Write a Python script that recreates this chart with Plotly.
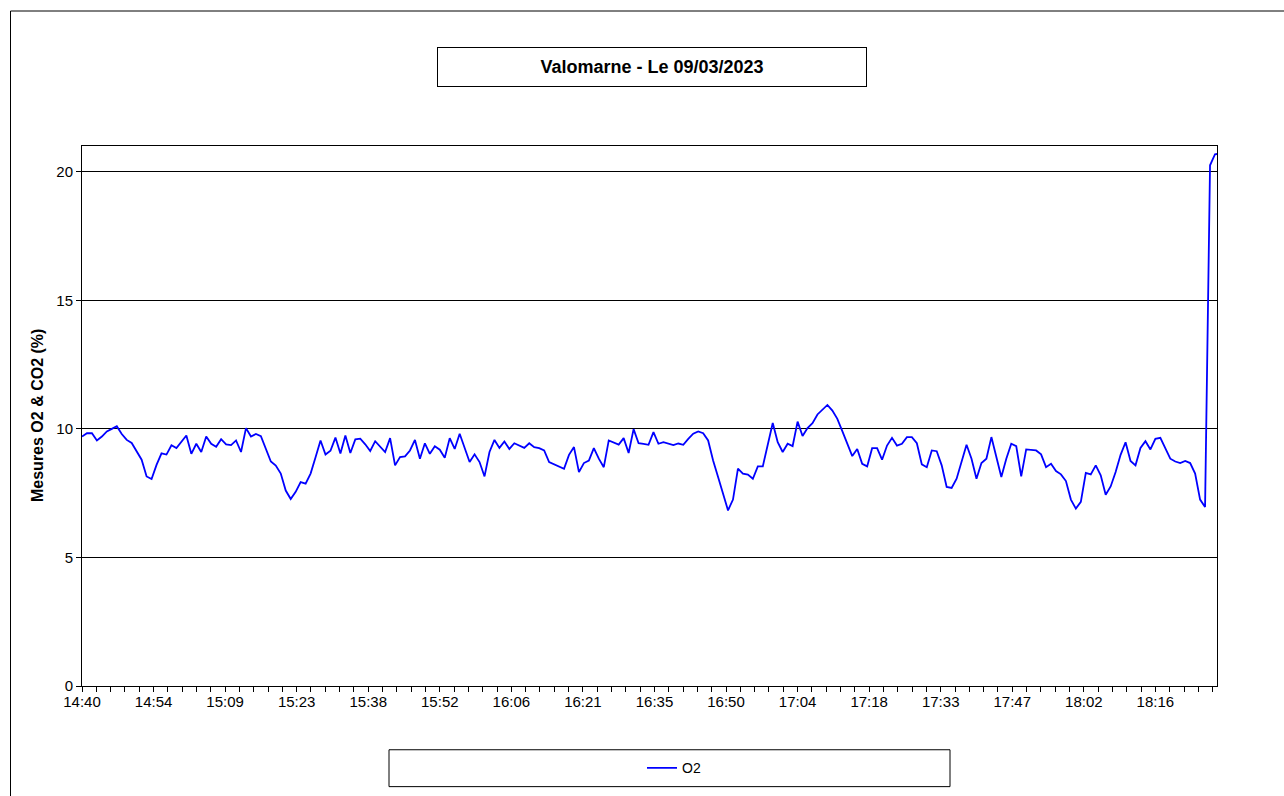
import plotly.graph_objects as go

# O2 readings (%), one per minute starting at 14:40
o2 = [
    9.70, 9.83, 9.83, 9.55, 9.70, 9.90, 10.00, 10.10, 9.80, 9.57,
    9.45, 9.15, 8.80, 8.15, 8.05, 8.60, 9.05, 9.00, 9.36, 9.25,
    9.50, 9.74, 9.03, 9.42, 9.10, 9.70, 9.42, 9.30, 9.60, 9.40,
    9.37, 9.55, 9.10, 10.03, 9.70, 9.80, 9.72, 9.22, 8.73, 8.57,
    8.26, 7.60, 7.27, 7.55, 7.93, 7.87, 8.26, 8.90, 9.55, 9.00,
    9.15, 9.66, 9.04, 9.74, 9.06, 9.59, 9.62, 9.40, 9.14, 9.52,
    9.29, 9.10, 9.64, 8.58, 8.90, 8.93, 9.16, 9.57, 8.84, 9.44,
    9.03, 9.32, 9.19, 8.88, 9.64, 9.22, 9.81, 9.29, 8.71, 9.01,
    8.71, 8.15, 9.10, 9.57, 9.26, 9.51, 9.22, 9.44, 9.35, 9.26,
    9.44, 9.29, 9.25, 9.16, 8.71, 8.62, 8.54, 8.45, 8.99, 9.29,
    8.32, 8.67, 8.77, 9.25, 8.84, 8.51, 9.55, 9.46, 9.39, 9.64,
    9.06, 9.99, 9.44, 9.42, 9.38, 9.87, 9.42, 9.48, 9.41, 9.37,
    9.43, 9.38, 9.61, 9.81, 9.90, 9.83, 9.55, 8.77, 8.13, 7.48,
    6.83, 7.25, 8.45, 8.26, 8.22, 8.06, 8.54, 8.54, 9.42, 10.23,
    9.48, 9.10, 9.42, 9.33, 10.28, 9.72, 10.03, 10.22, 10.56, 10.75,
    10.93, 10.71, 10.39, 9.91, 9.42, 8.94, 9.22, 8.64, 8.54, 9.25,
    9.25, 8.80, 9.35, 9.65, 9.35, 9.42, 9.68, 9.68, 9.44, 8.62,
    8.51, 9.16, 9.13, 8.58, 7.74, 7.70, 8.06, 8.71, 9.38, 8.84,
    8.06, 8.67, 8.84, 9.68, 8.90, 8.13, 8.84, 9.42, 9.33, 8.15,
    9.20, 9.19, 9.16, 9.01, 8.51, 8.64, 8.36, 8.23, 7.97, 7.25,
    6.90, 7.16, 8.29, 8.23, 8.58, 8.19, 7.44, 7.76, 8.32, 8.99,
    9.48, 8.75, 8.58, 9.26, 9.52, 9.20, 9.61, 9.65, 9.22, 8.84,
    8.73, 8.67, 8.75, 8.67, 8.26, 7.25, 6.96, 20.25, 20.68, 20.70,
]

# minutes elapsed since 14:40
minutes = list(range(len(o2)))

tick_labels = ["14:40", "14:54", "15:09", "15:23", "15:38", "15:52", "16:06", "16:21",
               "16:35", "16:50", "17:04", "17:18", "17:33", "17:47", "18:02", "18:16"]
major_step = 14.4          # 0.01 day
tick_pos = [k * major_step for k in range(len(tick_labels))]
y_ticks = [0, 5, 10, 15, 20]

W, H = 1284, 796
L, R, T, B = 82, 67, 146, 108
PW, PH = W - L - R, H - T - B


def px(xp):
    return (xp - L) / PW


def py(yp):
    return (H - B - yp) / PH


FONT = "Liberation Sans, Arial, sans-serif"

fig = go.Figure(
    go.Scatter(x=minutes, y=o2, mode="lines", name="O2",
               line=dict(color="#0000FF", width=1.8))
)

fig.update_layout(
    width=W, height=H,
    margin=dict(l=L, r=R, t=T, b=B, pad=0),
    paper_bgcolor="white", plot_bgcolor="white",
    font=dict(family=FONT, color="black", size=15),
    showlegend=True,
    legend=dict(x=px(674), xanchor="center", y=py(770.5), yanchor="middle",
                orientation="h", bgcolor="rgba(0,0,0,0)", borderwidth=0,
                font=dict(size=14, family=FONT)),
    xaxis=dict(range=[0, 228.4], tickmode="array", tickvals=tick_pos, ticktext=tick_labels,
               ticks="outside", ticklen=5, tickcolor="black", tickwidth=1,
               ticklabelstandoff=-3,
               showline=True, linecolor="black", linewidth=1, mirror=True,
               showgrid=False, zeroline=False, tickfont=dict(size=15),
               minor=dict(tickmode="linear", tick0=0, dtick=major_step / 5,
                          ticks="outside", ticklen=5, tickcolor="black", showgrid=False)),
    yaxis=dict(range=[0, 21], tickmode="array", tickvals=y_ticks,
               ticks="outside", ticklen=5, tickcolor="black", tickwidth=1,
               showline=True, linecolor="black", linewidth=1, mirror=True,
               showgrid=True, gridcolor="black", gridwidth=1, zeroline=False,
               tickfont=dict(size=15)),
)

fig.add_annotation(
    text="<b>Valomarne - Le 09/03/2023</b>", xref="paper", yref="paper",
    x=px(652), y=py(67), xanchor="center", yanchor="middle", showarrow=False,
    width=428, height=38, borderwidth=1, borderpad=0, bordercolor="black",
    bgcolor="white", font=dict(size=18, family=FONT),
)

fig.add_annotation(
    text="<b>Mesures O2 & CO2 (%)</b>", xref="paper", yref="paper",
    x=px(37), y=0.5, xanchor="center", yanchor="middle", textangle=-90,
    showarrow=False, font=dict(size=16, family=FONT),
)

# legend frame and outer chart frame
fig.add_shape(type="rect", xref="paper", yref="paper",
              x0=px(389), x1=px(950), y0=py(789), y1=py(752),
              line=dict(color="black", width=1))
fig.add_shape(type="rect", xref="paper", yref="paper",
              x0=px(10.5), x1=px(1400), y0=py(900), y1=py(10.5),
              line=dict(color="black", width=1))

fig.write_html("out.html")
